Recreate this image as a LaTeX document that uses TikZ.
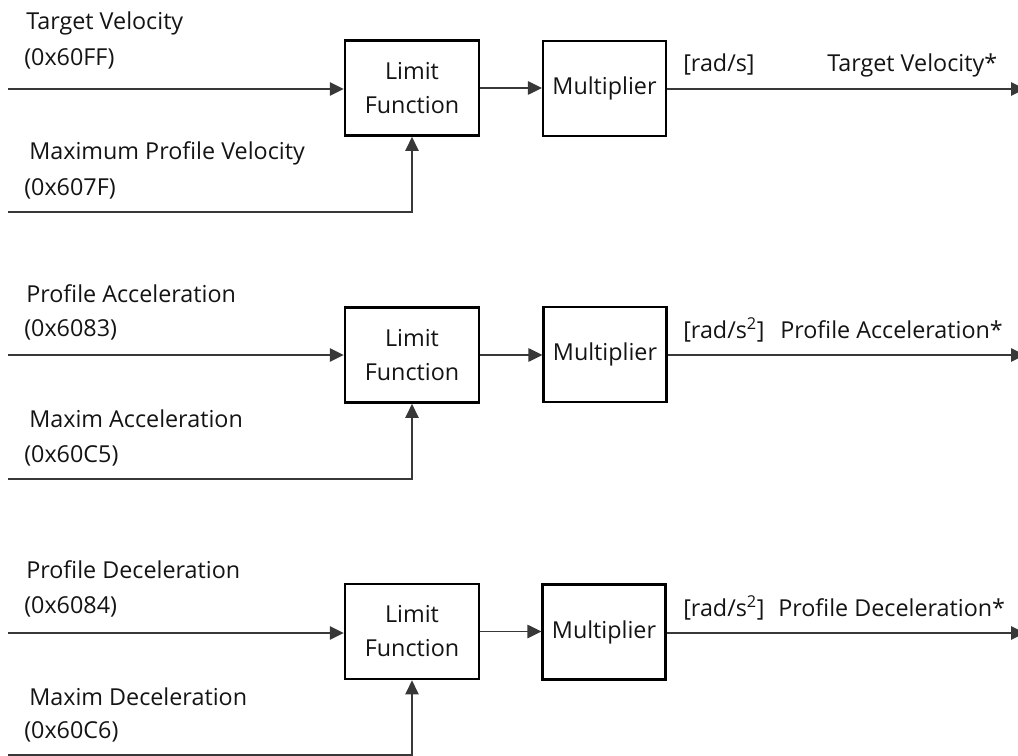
\documentclass[tikz,border=0pt]{standalone}
\usepackage{fontspec}
\setmainfont{Open Sans}
\usetikzlibrary{arrows.meta}
\begin{document}
\begin{tikzpicture}[x=0.75pt,y=-0.75pt,
  txt/.style={inner sep=0pt, text=black!92, font=\fontsize{17.5}{22}\selectfont},
  limbox/.style={draw=black, line width=1.8pt, fill=white, inner sep=0pt, align=center,
    minimum width=100.5pt, minimum height=71.5pt, text=black!92,
    font=\fontsize{17.5}{25.5}\selectfont},
  mulbox/.style={limbox, minimum width=92pt},
  conn/.style={draw=black!78, line width=1.2pt, -{Triangle[length=10.5pt,width=10pt]}},
  plain/.style={draw=black!78, line width=1.2pt}]
\useasboundingbox (0,0) rectangle (1018,756);

% ---------- Row 1 ----------
\node[limbox] (lim1) at (412,88) {Limit\\Function};
\node[mulbox] (mul1) at (604.5,88.5) {Multiplier};
\coordinate (in1) at (8,89);
\coordinate (mx1) at (8,212);
\coordinate (out1) at (1025,89);
\draw[conn] (in1) -- (in1 -| lim1.west);
\draw[conn] (mx1) -| (lim1.south);
\draw[conn] (lim1.east) -- (lim1.east -| mul1.west);
\draw[conn] (mul1.east |- out1) -- (out1);
\node[txt, anchor=base west] (t1a) at (26,30) {Target Velocity};
\node[txt, anchor=base west] (t1b) at (24,66) {(0x60FF)};
\node[txt, anchor=base west] (t1c) at (29,160) {Maximum Profile Velocity};
\node[txt, anchor=base west] (t1d) at (24,196) {(0x607F)};
\node[txt, anchor=base west] (u1) at (683,72) {[rad/s]};
\node[txt, anchor=base west] (o1) at (827,72) {Target Velocity*};

% ---------- Row 2 ----------
\node[limbox] (lim2) at (412,355) {Limit\\Function};
\node[mulbox] (mul2) at (605,354.5) {Multiplier};
\coordinate (in2) at (8,355);
\coordinate (mx2) at (8,479);
\coordinate (out2) at (1025,355);
\draw[conn] (in2) -- (in2 -| lim2.west);
\draw[conn] (mx2) -| (lim2.south);
\draw[conn] (lim2.east) -- (lim2.east -| mul2.west);
\draw[conn] (mul2.east |- out2) -- (out2);
\node[txt, anchor=base west] (t2a) at (26,302) {Profile Acceleration};
\node[txt, anchor=base west] (t2b) at (24,336) {(0x6083)};
\node[txt, anchor=base west] (t2c) at (29,427) {Maxim Acceleration};
\node[txt, anchor=base west] (t2d) at (24,462) {(0x60C5)};
\node[txt, anchor=base west] (u2) at (683,338) {[rad/s\textsuperscript{2}]};
\node[txt, anchor=base west] (o2) at (780,338) {Profile Acceleration*};

% ---------- Row 3 ----------
\node[limbox] (lim3) at (412,631.5) {Limit\\Function};
\node[mulbox] (mul3) at (604,632) {Multiplier};
\coordinate (in3) at (8,633);
\coordinate (mx3) at (8,755);
\coordinate (out3) at (1025,633);
\draw[conn] (in3) -- (in3 -| lim3.west);
\draw[conn] (mx3) -| (lim3.south);
\draw[conn] (lim3.east) -- (lim3.east -| mul3.west);
\draw[conn] (mul3.east |- out3) -- (out3);
\node[txt, anchor=base west] (t3a) at (26,578) {Profile Deceleration};
\node[txt, anchor=base west] (t3b) at (24,613) {(0x6084)};
\node[txt, anchor=base west] (t3c) at (29,705) {Maxim Deceleration};
\node[txt, anchor=base west] (t3d) at (24,738) {(0x60C6)};
\node[txt, anchor=base west] (u3) at (683,616) {[rad/s\textsuperscript{2}]};
\node[txt, anchor=base west] (o3) at (778,616) {Profile Deceleration*};
\end{tikzpicture}
\end{document}
